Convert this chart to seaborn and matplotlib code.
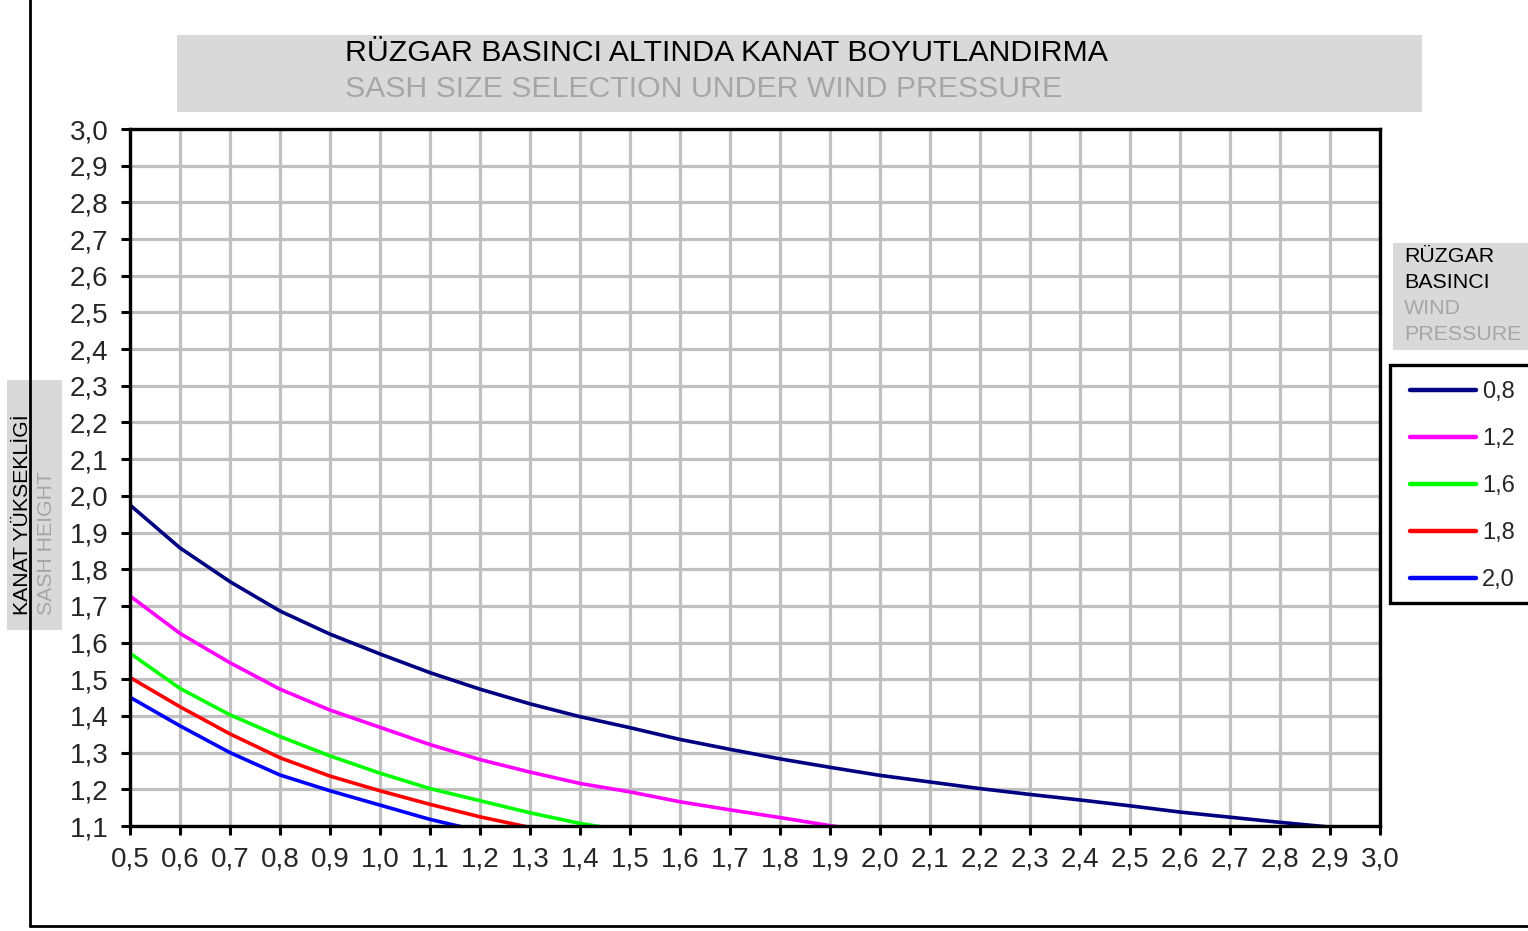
import numpy as np
import pandas as pd
import seaborn as sns
import matplotlib.pyplot as plt
from matplotlib.patches import Rectangle
from matplotlib.lines import Line2D

# width (m) vs max sash height (m) per wind pressure (kN/m2)
x_08 = [0.5, 0.6, 0.7, 0.8, 0.9, 1.0, 1.1, 1.2, 1.3, 1.4, 1.5, 1.6, 1.7, 1.8, 1.9,
        2.0, 2.1, 2.2, 2.3, 2.4, 2.5, 2.6, 2.7, 2.8, 2.9, 3.0]
y_08 = [1.975, 1.858, 1.766, 1.686, 1.623, 1.569, 1.518, 1.473, 1.433, 1.398, 1.368,
        1.336, 1.309, 1.283, 1.260, 1.238, 1.220, 1.202, 1.186, 1.171, 1.155, 1.138,
        1.124, 1.110, 1.097, 1.085]
x_12 = [0.5, 0.6, 0.7, 0.8, 0.9, 1.0, 1.1, 1.2, 1.3, 1.4, 1.5, 1.6, 1.7, 1.8, 1.9, 2.0]
y_12 = [1.727, 1.625, 1.545, 1.473, 1.416, 1.369, 1.322, 1.281, 1.247, 1.216, 1.193,
        1.166, 1.144, 1.123, 1.101, 1.082]
x_16 = [0.5, 0.6, 0.7, 0.8, 0.9, 1.0, 1.1, 1.2, 1.3, 1.4, 1.5]
y_16 = [1.571, 1.475, 1.403, 1.344, 1.291, 1.244, 1.202, 1.169, 1.136, 1.107, 1.085]
x_18 = [0.5, 0.6, 0.7, 0.8, 0.9, 1.0, 1.1, 1.2, 1.3, 1.4]
y_18 = [1.505, 1.425, 1.351, 1.286, 1.236, 1.196, 1.159, 1.125, 1.096, 1.075]
x_20 = [0.5, 0.6, 0.7, 0.8, 0.9, 1.0, 1.1, 1.2, 1.3]
y_20 = [1.451, 1.373, 1.300, 1.239, 1.196, 1.157, 1.118, 1.086, 1.065]

series = ["0,8", "1,2", "1,6", "1,8", "2,0"]
colors = ["#000080", "#ff00ff", "#00ff00", "#ff0000", "#0000ff"]

frames = []
for name, xs, ys in zip(series, [x_08, x_12, x_16, x_18, x_20],
                        [y_08, y_12, y_16, y_18, y_20]):
    frames.append(pd.DataFrame({"width": xs, "height": ys, "pressure": name}))
df = pd.concat(frames, ignore_index=True)

sns.set_style("white")
plt.rcParams["font.family"] = ["Liberation Sans", "DejaVu Sans"]

W, H = 1528, 931
fig = plt.figure(figsize=(W / 100, H / 100), dpi=100)
ax = fig.add_axes([130 / W, 1 - 826 / H, 1250 / W, 697 / H])

sns.lineplot(data=df, x="width", y="height", hue="pressure", palette=colors,
             hue_order=series, linewidth=2.6, ax=ax, legend=False, zorder=5)

ax.set_xlim(0.5, 3.0)
ax.set_ylim(1.1, 3.0)
xt = np.round(np.arange(0.5, 3.01, 0.1), 1)
yt = np.round(np.arange(1.1, 3.01, 0.1), 1)
ax.set_xticks(xt)
ax.set_yticks(yt)
ax.set_xticklabels([f"{v:.1f}".replace(".", ",") for v in xt])
ax.set_yticklabels([f"{v:.1f}".replace(".", ",") for v in yt])
ax.tick_params(axis="both", labelsize=20, direction="out", length=6.5, width=2.2,
               color="black", bottom=True, left=True)
ax.tick_params(axis="x", pad=8)
ax.tick_params(axis="y", pad=9)
ax.grid(True, color="#c0c0c0", linewidth=2.3)
ax.set_axisbelow(True)
for sp in ax.spines.values():
    sp.set_visible(True)
    sp.set_color("black")
    sp.set_linewidth(2.4)
    sp.set_zorder(6)
ax.set_xlabel("")
ax.set_ylabel("")

# outer frame of the chart area
fig.add_artist(Line2D([30 / W, 30 / W], [1 - 926 / H, 1], color="black", lw=2))
fig.add_artist(Line2D([30 / W, 1], [1 - 926 / H, 1 - 926 / H], color="black", lw=2))

# title box
fig.add_artist(Rectangle((177 / W, 1 - 112 / H), 1245 / W, 77 / H,
                         transform=fig.transFigure, facecolor="#d9d9d9", edgecolor="none"))
fig.text(345 / W, 1 - 61 / H, "RÜZGAR BASINCI ALTINDA KANAT BOYUTLANDIRMA",
         fontsize=21.8, color="black", va="baseline", ha="left")
fig.text(345 / W, 1 - 97 / H, "SASH SIZE SELECTION UNDER WIND PRESSURE",
         fontsize=21.8, color="#a6a6a6", va="baseline", ha="left")

# y label box
fig.add_artist(Rectangle((7 / W, 1 - 630 / H), 55 / W, 250 / H,
                         transform=fig.transFigure, facecolor="#d9d9d9", edgecolor="none"))
fig.text(23 / W, 1 - 615 / H, "KANAT YÜKSEKLİGİ", fontsize=15.3, color="black",
         rotation=90, ha="center", va="bottom")
fig.text(47 / W, 1 - 615 / H, "SASH HEIGHT", fontsize=15.3, color="#a6a6a6",
         rotation=90, ha="center", va="bottom")

# legend title box
fig.add_artist(Rectangle((1393 / W, 1 - 350 / H), 140 / W, 107 / H,
                         transform=fig.transFigure, facecolor="#d9d9d9", edgecolor="none"))
for i, (txt, col) in enumerate([("RÜZGAR", "black"), ("BASINCI", "black"),
                                ("WIND", "#a6a6a6"), ("PRESSURE", "#a6a6a6")]):
    fig.text(1404 / W, 1 - (256 + 26 * i) / H, txt, fontsize=15.4, color=col,
             ha="left", va="center")

# legend: frame drawn separately, entries placed inside it
fig.add_artist(Rectangle((1390 / W, 1 - 603 / H), 150 / W, 238 / H,
                         transform=fig.transFigure, facecolor="white",
                         edgecolor="black", linewidth=2.4, zorder=3))
handles = [Line2D([0], [0], color=c, lw=3.2) for c in colors]
leg = fig.legend(handles, series, loc="upper left",
                 bbox_to_anchor=(1410 / W, 1 - 381 / H), fontsize=17,
                 frameon=False, handlelength=2.8, handletextpad=0.25,
                 labelspacing=1.06, borderpad=0, borderaxespad=0)
leg.set_zorder(4)

fig.savefig("out.png", dpi=100)
